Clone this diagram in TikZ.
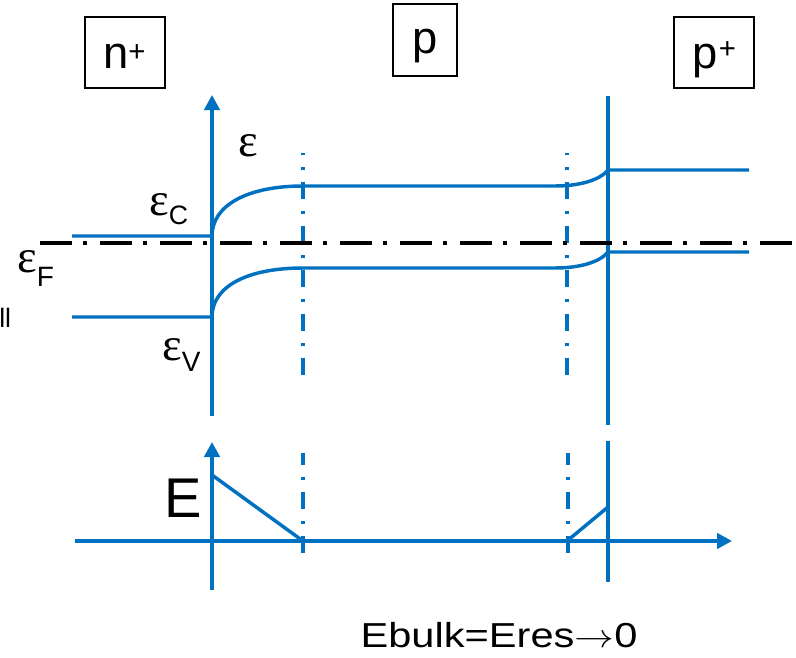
\documentclass[tikz,border=0pt]{standalone}
\usepackage{fontspec}
\usepackage{graphicx}
\setmainfont{Liberation Sans}
\newfontfamily\greekfont{Liberation Serif}
\usetikzlibrary{arrows.meta}
\definecolor{bandblue}{HTML}{0070C0}

\begin{document}
\begin{tikzpicture}[x=0.75pt,y=-0.75pt,
  band/.style={draw=bandblue, line width=2.6pt},
  axis/.style={band, -{Triangle[length=11.25pt,width=11.5pt]}},
  junction/.style={draw=bandblue, line width=2.4pt, dash pattern=on 13pt off 9pt on 2pt off 9pt},
  fermi/.style={draw=black, line width=2.6pt, dash pattern=on 24pt off 8.5pt on 2.5pt off 10pt},
  regbox/.style={draw=black, line width=1.3pt, inner sep=0pt},
  regtext/.style={inner sep=0pt, anchor=base west, font=\fontsize{34}{36}\selectfont},
  eps/.style={inner sep=0pt, anchor=base west, font=\greekfont\fontsize{35}{38}\selectfont}
]
\useasboundingbox (0,0) rectangle (796,657);

% region labels
\node[regbox, minimum width=60pt, minimum height=53.25pt] (nbox) at (125,52.5) {};
\node[regtext] (ntext) at (103,68) {n\raisebox{5pt}{\fontsize{22}{22}\selectfont +}};
\node[regbox, minimum width=48pt, minimum height=54pt] (pbox) at (425,40) {};
\node[regtext] (ptext) at (412,53) {p};
\node[regbox, minimum width=60pt, minimum height=53.25pt] (ppbox) at (714,52.5) {};
\node[regtext] (pptext) at (692,68) {p\hspace{1pt}\raisebox{7pt}{\fontsize{22}{22}\selectfont +}};

% energy axis and p/p+ interface
\coordinate (eaxbot) at (212,416);
\coordinate (eaxtop) at (212,95);
\draw[axis] (eaxbot) -- (eaxtop);
\coordinate (ifacetop) at (608,96);
\coordinate (ifacemid) at (608,425);
\draw[band] (ifacetop) -- (ifacemid);

% depletion edges
\coordinate (dlt) at (303,153);
\coordinate (dlb) at (303,375);
\coordinate (drt) at (567,153);
\coordinate (drb) at (567,375);
\draw[junction, dash phase=11.5pt] (dlt) -- (dlb);
\draw[junction, dash phase=11.5pt] (drt) -- (drb);

% Fermi level
\coordinate (fl) at (40,243);
\coordinate (fr) at (800,243);
\draw[fermi] (fl) -- (fr);

% conduction band edge
\coordinate (cn0) at (72,236);
\coordinate (cn1) at (212,236);
\coordinate (cp0) at (303,186);
\coordinate (cp1) at (555,186);
\coordinate (cpp0) at (608,170);
\coordinate (cpp1) at (749,170);
\draw[band] (cn0) -- (cn1) .. controls (212,205) and (248,186) .. (cp0) -- (cp1)
  .. controls (580,186) and (600,180) .. (cpp0) -- (cpp1);

% valence band edge
\coordinate (vn0) at (72,317);
\coordinate (vn1) at (212,317);
\coordinate (vp0) at (303,268);
\coordinate (vp1) at (555,268);
\coordinate (vpp0) at (608,252);
\coordinate (vpp1) at (749,252);
\draw[band] (vn0) -- (vn1) .. controls (212,286) and (248,268) .. (vp0) -- (vp1)
  .. controls (580,268) and (600,262) .. (vpp0) -- (vpp1);

% band labels
\node[eps, anchor=center] (epsaxis) at (248,146) {ε};
\node[eps] (epsc) at (149,215) {ε\raisebox{-6.75pt}{\normalfont\fontsize{20}{22}\selectfont C}};
\node[eps] (epsf) at (17,272) {ε\raisebox{-10.5pt}{\normalfont\fontsize{21}{22}\selectfont F}};
\node[eps] (epsv) at (162,360) {ε\raisebox{-8.25pt}{\normalfont\fontsize{21}{22}\selectfont V}};
\node[inner sep=0pt, anchor=base west, font=\fontsize{20}{22}\selectfont] (clipped) at (-1,327) {ll};

% field plot
\coordinate (faxbot) at (212,590);
\coordinate (faxtop) at (212,442);
\draw[axis] (faxbot) -- (faxtop);
\coordinate (xaxl) at (75,541);
\coordinate (xaxr) at (732,541);
\draw[axis] (xaxl) -- (xaxr);
\coordinate (ifacelo) at (608,441);
\coordinate (ifacebot) at (608,582);
\draw[band] (ifacelo) -- (ifacebot);
\coordinate (dlt2) at (303,453);
\coordinate (dlb2) at (303,557);
\coordinate (drt2) at (568,453);
\coordinate (drb2) at (568,557);
\draw[junction, dash phase=4pt] (dlt2) -- (dlb2);
\draw[junction, dash phase=4pt] (drt2) -- (drb2);
\coordinate (fn0) at (212,475);
\coordinate (fn1) at (303,541);
\coordinate (fp0) at (567,541);
\coordinate (fp1) at (608,507);
\draw[band] (fn0) -- (fn1);
\draw[band] (fp0) -- (fp1);
\node[inner sep=0pt, anchor=base west, font=\fontsize{42}{44}\selectfont] (elabel) at (164,517) {E};

\node[inner sep=0pt, anchor=base, font=\fontsize{26}{28}\selectfont] (bulk) at (499,647)
  {\scalebox{1.2}[1]{Ebulk=Eres$\rightarrow$0}};
\end{tikzpicture}
\end{document}
